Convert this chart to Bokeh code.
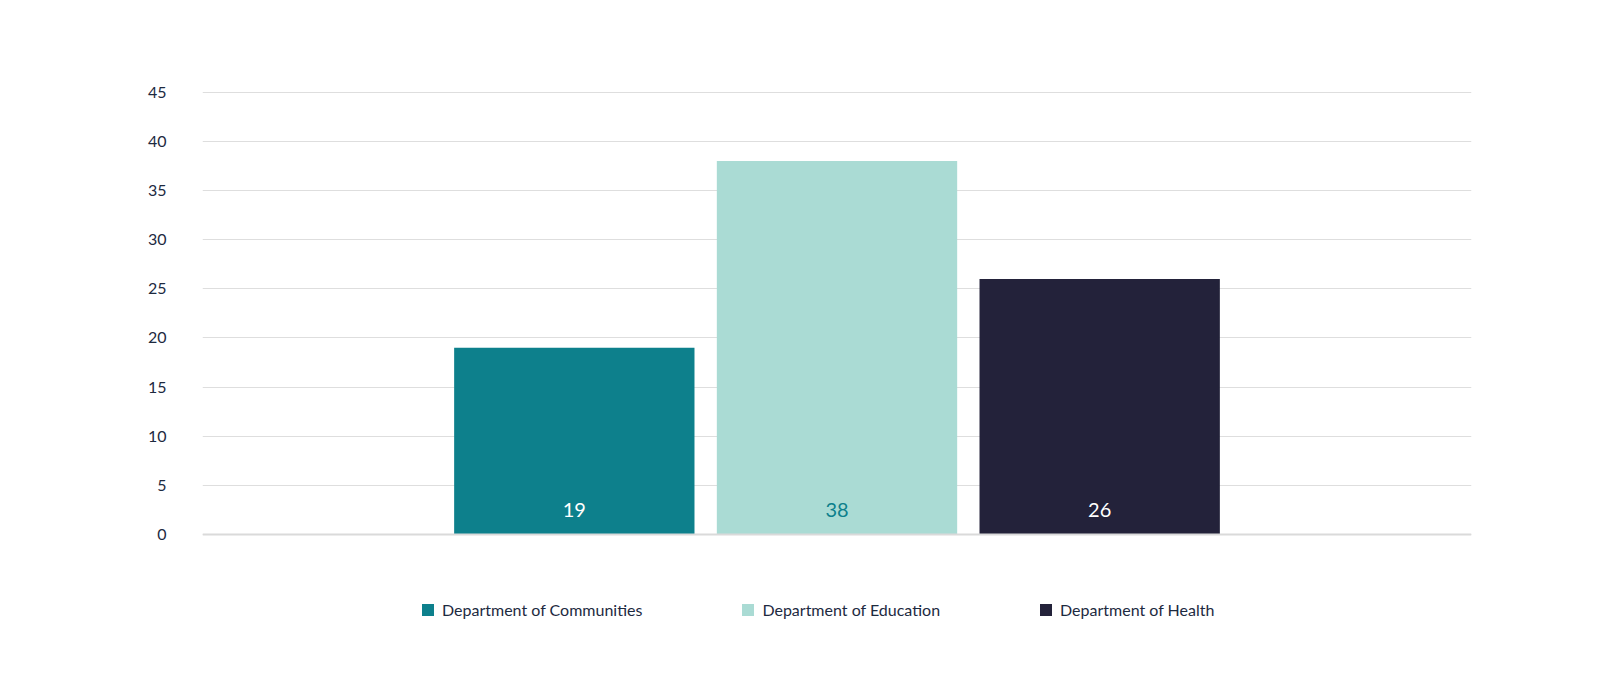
from bokeh.plotting import figure
from bokeh.models import (ColumnDataSource, FactorRange, Range1d, FixedTicker,
                          Legend, LegendItem, Span)
from bokeh.transform import dodge
from bokeh.core.properties import value
from bokeh.embed import file_html
from bokeh.resources import INLINE

# ---- data ----
departments = ["Department of Communities", "Department of Education", "Department of Health"]
counts = [19, 38, 26]
y_ticks = [0, 5, 10, 15, 20, 25, 30, 35, 40, 45]
category = [""]

# ---- styles ----
bar_colors = ["#0d808c", "#aadbd4", "#23223a"]
label_colors = ["#ffffff", "#0d808c", "#ffffff"]
offsets = [-0.207, 0.0, 0.207]
FONT = "Lato"
TEXT = "#1d2a3f"

p = figure(width=1604, height=683, output_backend="svg", toolbar_location=None,
           x_range=FactorRange(factors=category, range_padding=0),
           y_range=Range1d(-12.82, 46.19),
           min_border_left=202, min_border_right=133,
           min_border_top=80, min_border_bottom=23)
p.outline_line_color = None
p.background_fill_color = "#ffffff"
p.border_fill_color = "#ffffff"
p.xaxis.visible = False

items = []
for name, cnt, col, lcol, off in zip(departments, counts, bar_colors, label_colors, offsets):
    src = ColumnDataSource(dict(cat=category, val=[cnt], lab=[str(cnt)]))
    r = p.vbar(x=dodge("cat", off, range=p.x_range), top="val", bottom=0,
               width=0.1894, source=src, fill_color=col, line_color=None)
    p.text(x=dodge("cat", off, range=p.x_range), y=0, text="lab", source=src,
           text_color=lcol, text_font=value(FONT), text_font_size="20px",
           text_align="center", text_baseline="middle", y_offset=-24)
    items.append(LegendItem(label=name, renderers=[r]))

p.add_layout(Span(location=0, dimension="width", line_color="#dadada", line_width=2))

p.yaxis.ticker = FixedTicker(ticks=y_ticks)
p.yaxis.axis_line_color = None
p.yaxis.major_tick_line_color = None
p.yaxis.minor_tick_line_color = None
p.yaxis.major_tick_out = 0
p.yaxis.major_label_standoff = 36
p.yaxis.major_label_text_font = FONT
p.yaxis.major_label_text_font_size = "16px"
p.yaxis.major_label_text_color = TEXT

p.xgrid.grid_line_color = None
p.ygrid.grid_line_color = "#dedede"
p.ygrid.grid_line_width = 1

legend = Legend(items=items, orientation="horizontal", location=(218, 41),
                glyph_width=15, glyph_height=15, label_standoff=7, spacing=98,
                padding=0, margin=0, border_line_color=None,
                background_fill_alpha=0,
                label_text_font=FONT, label_text_font_size="16px",
                label_text_color=TEXT, label_height=20)
p.add_layout(legend, "center")

open("out.html", "w").write(file_html(p, INLINE))
